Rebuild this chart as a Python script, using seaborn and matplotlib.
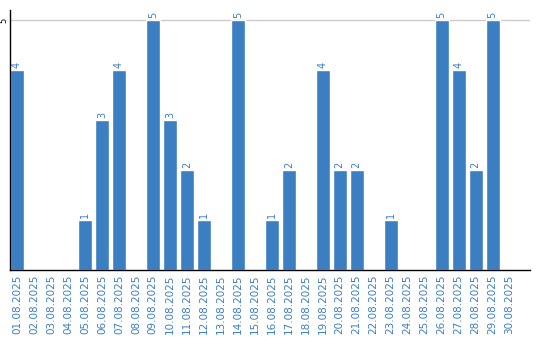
import matplotlib
matplotlib.use("Agg")
import matplotlib.pyplot as plt
import seaborn as sns
import pandas as pd

dates = [f"{d:02d}.08.2025" for d in range(1, 31)]
values = [4, 0, 0, 0, 1, 3, 4, 0, 5, 3, 2, 1, 0, 5, 0, 1, 2, 0, 4, 2, 2, 0, 1, 0, 0, 5, 4, 2, 5, 0]

df = pd.DataFrame({"date": dates, "value": values})

sns.set_theme(style="white")
plt.rcParams['font.family'] = ['DejaVu Sans']

fig = plt.figure(figsize=(5.4, 3.4), dpi=100)
ax = fig.add_axes([10/540, 70/340, 520/540, 260/340])

bar_color = "#3b7ec2"
sns.barplot(data=df, x="date", y="value", color=bar_color, saturation=1, width=0.82, ax=ax)

for i, v in enumerate(values):
    if v > 0:
        ax.text(i, v + 0.04, str(v), rotation=90, ha="center", va="bottom",
                color=bar_color, fontsize=7)

ax.set_xlim(-0.41, 30.2)
ax.set_ylim(0, 5.2)
ax.set_yticks([5])
ax.set_yticklabels(["5"], rotation=90, va="center", fontsize=6, color="black")
ax.yaxis.grid(True, color="#cccccc", linewidth=1)
ax.set_axisbelow(True)
ax.tick_params(axis="y", length=0, pad=1)
ax.tick_params(axis="x", length=0, pad=3)
ax.set_xticks(range(len(dates)))
ax.set_xticklabels(dates, rotation=90, fontsize=7.5, color=bar_color)
ax.set_xlabel("")
ax.set_ylabel("")
for s in ["top", "right"]:
    ax.spines[s].set_visible(False)
ax.spines["left"].set_color("black")
ax.spines["bottom"].set_color("black")
ax.spines["left"].set_linewidth(1)
ax.spines["bottom"].set_linewidth(1)

fig.savefig("out.png", dpi=100)
